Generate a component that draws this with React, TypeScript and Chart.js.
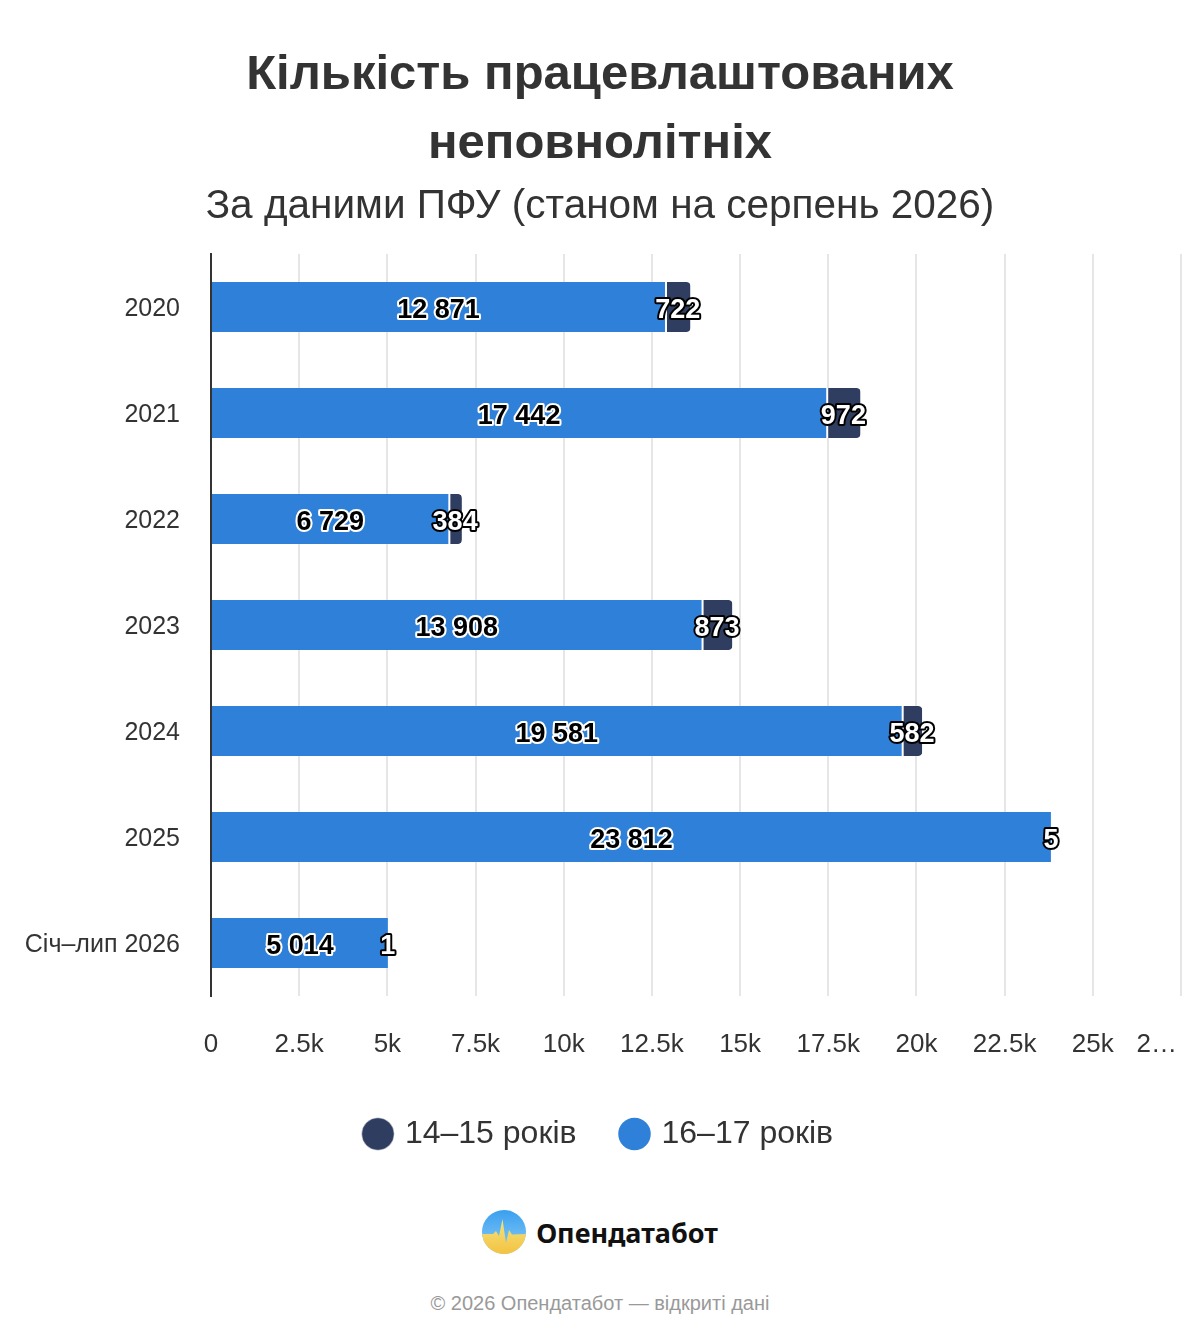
import { useEffect, useRef } from "react";
import { Chart, registerables } from "chart.js";

Chart.register(...registerables);

const categories = ["2020", "2021", "2022", "2023", "2024", "2025", "Січ–лип 2026"];
const age1617 = [12871, 17442, 6729, 13908, 19581, 23812, 5014];
const age1415 = [722, 972, 384, 873, 582, 5, 1];
const seriesNames = ["16–17 років", "14–15 років"];
const xMax = 27500;
const xStep = 2500;

const FONT = '"Liberation Sans", Arial, Helvetica, sans-serif';
const BLUE = "#2F80D9";
const NAVY = "#2F3D60";
const TEXT = "#333333";

const fmt = (v: number) => String(v).replace(/\B(?=(\d{3})+(?!\d))/g, " ");
const fmtK = (v: number) => (v === 0 ? "0" : `${v / 1000}k`);

// values drawn in the middle of each segment, outlined text
const barLabels = {
  id: "barLabels",
  afterDatasetsDraw(chart: any) {
    const { ctx } = chart;
    ctx.save();
    ctx.font = `bold 27px ${FONT}`;
    ctx.textAlign = "center";
    ctx.textBaseline = "middle";
    ctx.lineJoin = "round";
    ctx.lineWidth = 4;
    chart.data.datasets.forEach((ds: any, di: number) => {
      const meta = chart.getDatasetMeta(di);
      const dark = di === 1;
      meta.data.forEach((bar: any, i: number) => {
        const t = fmt(ds.data[i]);
        const x = (bar.x + bar.base) / 2;
        const y = bar.y + 4;
        ctx.strokeStyle = dark ? "#000" : "#fff";
        ctx.fillStyle = dark ? "#fff" : "#000";
        ctx.strokeText(t, x, y);
        ctx.fillText(t, x, y);
      });
    });
    ctx.restore();
  },
};

// last x label is cut short and kept inside the canvas
const lastTick = {
  id: "lastTick",
  afterDraw(chart: any) {
    const scale = chart.scales.x;
    const items = scale.getLabelItems();
    if (!items.length) return;
    const ref = items[0];
    const last = scale.ticks[scale.ticks.length - 1];
    const text = fmtK(last.value).charAt(0) + "…";
    const { ctx } = chart;
    ctx.save();
    ctx.font = `26px ${FONT}`;
    ctx.fillStyle = TEXT;
    ctx.textAlign = "right";
    ctx.textBaseline = ref.options.textBaseline;
    ctx.fillText(text, chart.chartArea.right - 4, ref.options.translation[1] + ref.textOffset);
    ctx.restore();
  },
};

function BarChart() {
  const chartRef = useRef<HTMLCanvasElement>(null);
  const chartInstance = useRef<Chart | null>(null);

  useEffect(() => {
    if (!chartRef.current) return;
    if (chartInstance.current) chartInstance.current.destroy();
    const ctx = chartRef.current.getContext("2d");
    if (!ctx) return;

    chartInstance.current = new Chart(ctx, {
      type: "bar",
      data: {
        labels: categories,
        datasets: [
          {
            label: seriesNames[0],
            data: age1617,
            backgroundColor: BLUE,
            borderWidth: 0,
          },
          {
            label: seriesNames[1],
            data: age1415,
            backgroundColor: NAVY,
            borderColor: "#ffffff",
            borderWidth: { left: 2, top: 0, right: 0, bottom: 0 },
            borderSkipped: false,
            borderRadius: { topRight: 4, bottomRight: 4, topLeft: 0, bottomLeft: 0 },
          },
        ],
      },
      options: {
        indexAxis: "y",
        responsive: true,
        maintainAspectRatio: false,
        animation: false,
        events: [],
        layout: { padding: { left: 0, right: 0, top: 0, bottom: 10 } },
        datasets: {
          bar: { categoryPercentage: 1, barPercentage: 0.472 },
        },
        scales: {
          x: {
            stacked: true,
            min: 0,
            max: xMax,
            grid: { color: "#e6e6e6", lineWidth: 2, drawTicks: false },
            border: { display: false },
            ticks: {
              stepSize: xStep,
              autoSkip: false,
              maxRotation: 0,
              padding: 33,
              color: TEXT,
              font: { family: FONT, size: 26 },
              callback: (value: any, index: number, ticks: any[]) =>
                index === ticks.length - 1 ? "" : fmtK(Number(value)),
            },
            afterFit: (scale: any) => {
              scale.paddingRight = 11;
              scale.height = 75;
            },
          },
          y: {
            stacked: true,
            grid: { display: false, drawTicks: false },
            border: { display: true, color: TEXT, width: 2 },
            ticks: {
              padding: 31,
              labelOffset: 2,
              color: TEXT,
              font: { family: FONT, size: 25 },
            },
            afterFit: (scale: any) => {
              scale.width = 203;
            },
          },
        },
        plugins: {
          title: {
            display: true,
            text: ["Кількість працевлаштованих", "неповнолітніх"],
            color: TEXT,
            font: { family: FONT, size: 49, weight: "bold", lineHeight: 68.5 / 49 },
            padding: { top: 33.5, bottom: 4.5 },
          },
          subtitle: {
            display: true,
            text: "За даними ПФУ (станом на серпень 2026)",
            color: TEXT,
            font: { family: FONT, size: 40.5, lineHeight: 1.2 },
            padding: { top: 0, bottom: 22.4 },
          },
          legend: {
            position: "bottom",
            reverse: true,
            labels: {
              usePointStyle: true,
              pointStyle: "circle",
              boxWidth: 22,
              boxHeight: 23,
              padding: 47,
              color: TEXT,
              font: { family: FONT, size: 32 },
            },
          },
          tooltip: { enabled: false },
        },
      },
      plugins: [barLabels, lastTick],
    });

    return () => {
      if (chartInstance.current) {
        chartInstance.current.destroy();
        chartInstance.current = null;
      }
    };
  }, []);

  return (
    <div style={{ position: "relative", width: 1184, height: 1162 }}>
      <canvas ref={chartRef}></canvas>
    </div>
  );
}

function Logo() {
  return (
    <svg width="44" height="44" viewBox="0 0 44 44">
      <defs>
        <linearGradient id="lgTop" x1="0" y1="0" x2="0" y2="1">
          <stop offset="0" stopColor="#3A9FEF" />
          <stop offset="1" stopColor="#8CCFF6" />
        </linearGradient>
        <linearGradient id="lgBot" x1="0" y1="0" x2="0" y2="1">
          <stop offset="0" stopColor="#F2E483" />
          <stop offset="1" stopColor="#F5C23F" />
        </linearGradient>
        <clipPath id="lgClip">
          <circle cx="22" cy="22" r="22" />
        </clipPath>
      </defs>
      <g clipPath="url(#lgClip)">
        <rect width="44" height="44" fill="url(#lgTop)" />
        <path
          d="M0 24 L11 24 L14 21 L17 26 L20.5 9 L24 33 L27 20 L30 24.5 L44 24 L44 44 L0 44 Z"
          fill="url(#lgBot)"
        />
      </g>
    </svg>
  );
}

export default function App() {
  return (
    <div style={{ width: 1184, fontFamily: FONT, background: "#fff" }}>
      <BarChart />
      <div
        style={{
          marginTop: 40,
          height: 44,
          display: "flex",
          justifyContent: "center",
          alignItems: "center",
          gap: 10,
        }}
      >
        <Logo />
        <span
          style={{
            fontFamily: '"Noto Sans", "Open Sans", sans-serif',
            fontWeight: 700,
            fontSize: 27,
            color: "#111",
          }}
        >
          Опендатабот
        </span>
      </div>
      <div
        style={{
          marginTop: 37,
          textAlign: "center",
          fontSize: 20,
          lineHeight: "24px",
          color: "#999",
        }}
      >
        © 2026 Опендатабот — відкриті дані
      </div>
    </div>
  );
}
